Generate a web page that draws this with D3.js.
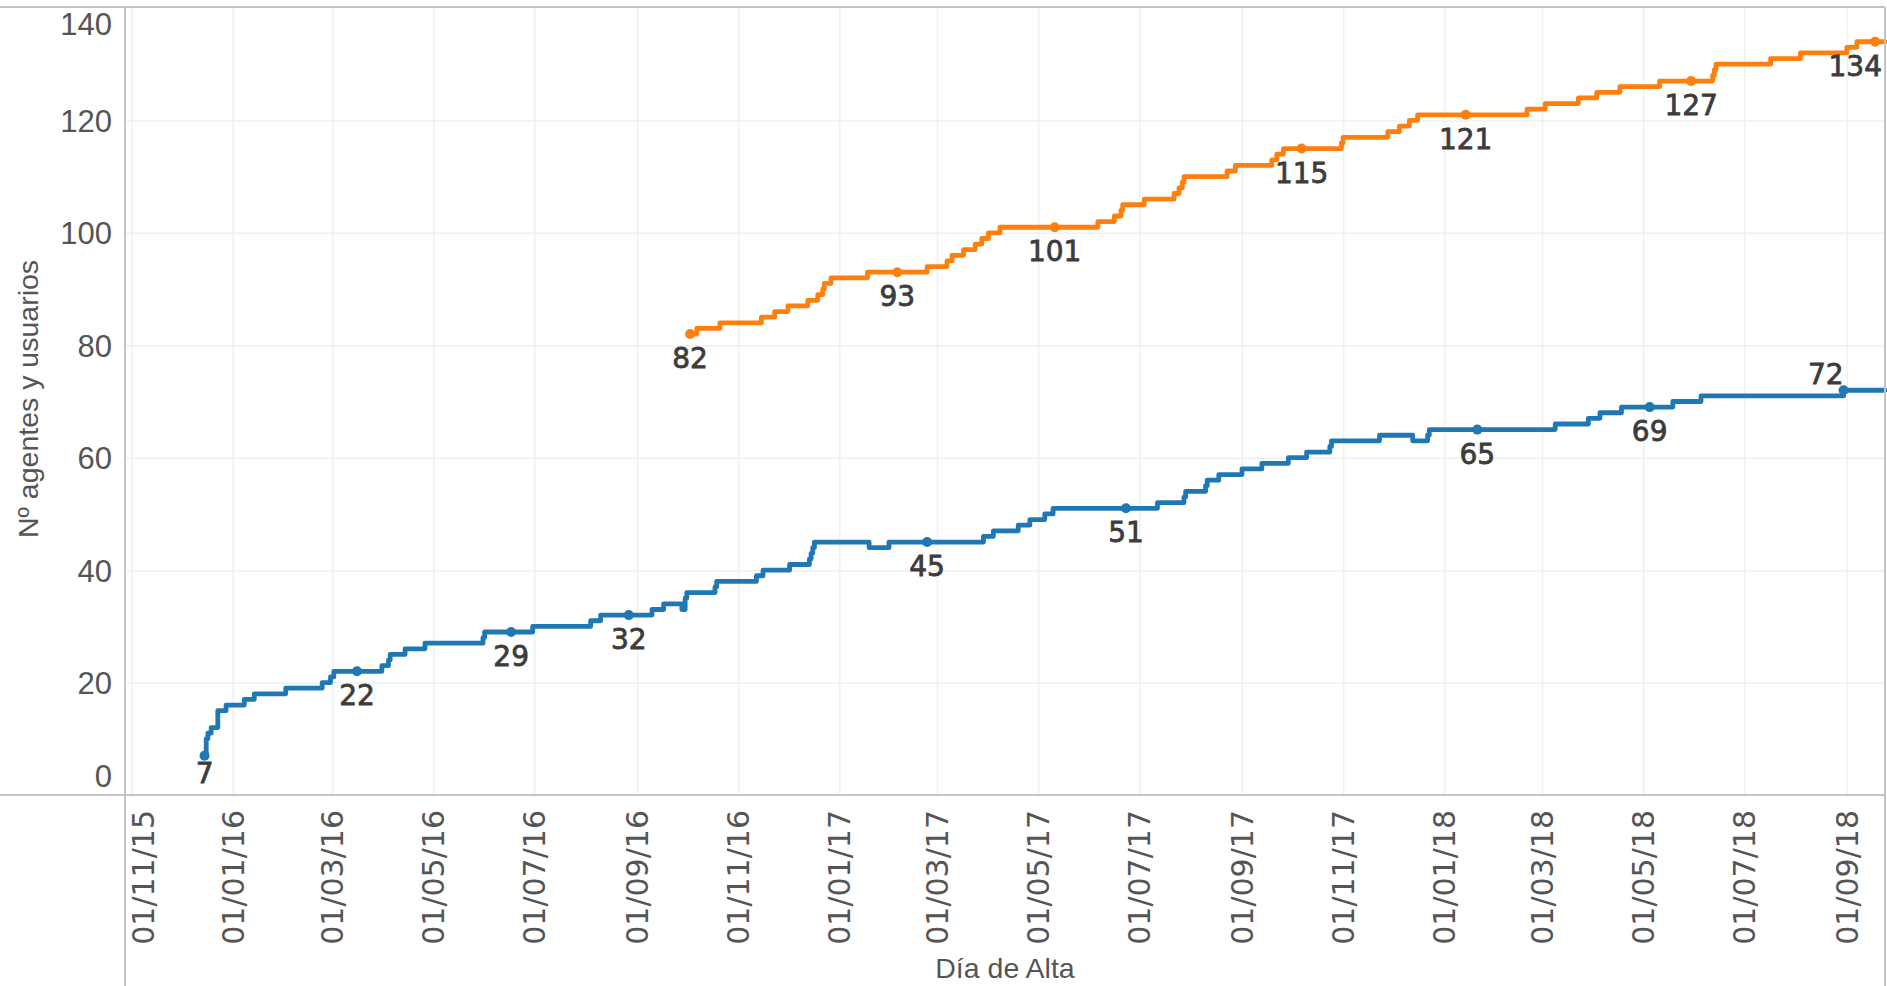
<!DOCTYPE html>
<html lang="es">
<head>
  <meta charset="UTF-8">
  <title>Nº agentes y usuarios</title>
<style>
    html, body {
      margin: 0;
      padding: 0;
      background: #fff;
    }

    svg {
      display: block;
    }

    .grid line {
      stroke: #f0f0f0;
      stroke-width: 1.5;
    }

    .frame {
      stroke: #c4c4c4;
      stroke-width: 2;
    }

    .y-tick text {
      font-family: "Liberation Sans", Arial, sans-serif;
      font-size: 31px;
      fill: #555;
    }

    .x-tick text {
      font-family: "DejaVu Sans", sans-serif;
      font-size: 30px;
      fill: #555;
    }

    .axis-title {
      font-family: "Liberation Sans", Arial, sans-serif;
      font-size: 28.5px;
      fill: #555;
    }

    .mark-label {
      font-family: "DejaVu Sans", sans-serif;
      font-size: 28px;
      fill: #3c3c3c;
      stroke: #3c3c3c;
      stroke-width: 0.8px;
    }
  </style>
</head>
<body>
  <svg id="chart"></svg>
<script src="https://d3js.org/d3.v7.min.js"></script>
<script>
    // Data: step change points [date, value]
    const blueSteps = [
      ['2015-12-15', 7], ['2015-12-16', 10], ['2015-12-17', 11], ['2015-12-19', 12],
      ['2015-12-23', 15], ['2015-12-28', 16], ['2016-01-08', 17], ['2016-01-14', 18],
      ['2016-02-02', 19], ['2016-02-24', 20], ['2016-02-29', 21], ['2016-03-02', 22],
      ['2016-03-31', 23], ['2016-04-04', 24], ['2016-04-05', 25], ['2016-04-14', 26],
      ['2016-04-26', 27], ['2016-05-31', 28], ['2016-06-01', 29], ['2016-06-30', 30],
      ['2016-08-04', 31], ['2016-08-10', 32], ['2016-09-10', 33], ['2016-09-17', 34],
      ['2016-09-28', 33], ['2016-09-30', 35], ['2016-10-01', 36], ['2016-10-18', 37],
      ['2016-10-19', 38], ['2016-11-12', 39], ['2016-11-16', 40], ['2016-12-02', 41],
      ['2016-12-14', 42], ['2016-12-15', 43], ['2016-12-16', 44], ['2016-12-17', 45],
      ['2017-01-19', 44], ['2017-01-31', 45], ['2017-03-29', 46], ['2017-04-04', 47],
      ['2017-04-19', 48], ['2017-04-26', 49], ['2017-05-05', 50], ['2017-05-10', 51],
      ['2017-07-12', 52], ['2017-07-28', 53], ['2017-07-29', 54], ['2017-08-10', 55],
      ['2017-08-11', 56], ['2017-08-18', 57], ['2017-09-01', 58], ['2017-09-13', 59],
      ['2017-09-29', 60], ['2017-10-10', 61], ['2017-10-24', 62], ['2017-10-25', 63],
      ['2017-11-23', 64], ['2017-12-13', 63], ['2017-12-22', 64], ['2017-12-23', 65],
      ['2018-03-09', 66], ['2018-03-29', 67], ['2018-04-05', 68], ['2018-04-18', 69],
      ['2018-05-19', 70], ['2018-06-05', 71], ['2018-08-30', 72], ['2018-09-24', 72]
    ];

    const orangeSteps = [
      ['2016-10-03', 82], ['2016-10-07', 83], ['2016-10-21', 84], ['2016-11-15', 85],
      ['2016-11-23', 86], ['2016-12-01', 87], ['2016-12-13', 88], ['2016-12-19', 89],
      ['2016-12-22', 90], ['2016-12-23', 91], ['2016-12-27', 92], ['2017-01-18', 93],
      ['2017-02-23', 94], ['2017-03-07', 95], ['2017-03-10', 96], ['2017-03-17', 97],
      ['2017-03-24', 98], ['2017-03-28', 99], ['2017-04-01', 100], ['2017-04-08', 101],
      ['2017-06-06', 102], ['2017-06-16', 103], ['2017-06-20', 104], ['2017-06-21', 105],
      ['2017-07-04', 106], ['2017-07-22', 107], ['2017-07-25', 108], ['2017-07-27', 109],
      ['2017-07-28', 110], ['2017-08-23', 111], ['2017-08-28', 112], ['2017-09-19', 113],
      ['2017-09-22', 114], ['2017-09-26', 115], ['2017-10-31', 116], ['2017-11-01', 117],
      ['2017-11-28', 118], ['2017-12-05', 119], ['2017-12-11', 120], ['2017-12-16', 121],
      ['2018-02-20', 122], ['2018-03-03', 123], ['2018-03-23', 124], ['2018-04-03', 125],
      ['2018-04-17', 126], ['2018-05-11', 127], ['2018-06-12', 128], ['2018-06-13', 129],
      ['2018-06-14', 130], ['2018-07-17', 131], ['2018-08-04', 132], ['2018-09-01', 133],
      ['2018-09-07', 134], ['2018-09-24', 134]
    ];

    // Labelled marks
    const blueLabels = [
      ['2015-12-15', 7], ['2016-03-16', 22], ['2016-06-17', 29], ['2016-08-27', 32],
      ['2017-02-23', 45], ['2017-06-23', 51], ['2018-01-21', 65], ['2018-05-05', 69],
      ['2018-08-30', 72]
    ];

    const orangeLabels = [
      ['2016-10-03', 82], ['2017-02-05', 93], ['2017-05-11', 101], ['2017-10-07', 115],
      ['2018-01-14', 121], ['2018-05-30', 127], ['2018-09-18', 134]
    ];

    const xDomain = ['2015-10-28', '2018-09-24'];
    const xTicks = [
      '2015-11-01', '2016-01-01', '2016-03-01', '2016-05-01', '2016-07-01', '2016-09-01',
      '2016-11-01', '2017-01-01', '2017-03-01', '2017-05-01', '2017-07-01', '2017-09-01',
      '2017-11-01', '2018-01-01', '2018-03-01', '2018-05-01', '2018-07-01', '2018-09-01'
    ];
    const yTicks = [0, 20, 40, 60, 80, 100, 120, 140];

    const xTitle = 'Día de Alta';
    const yTitle = 'Nº agentes y usuarios';

    // Dimensions
    const W = 1887, H = 986;
    const margin = { top: 8, right: 2, bottom: 191, left: 125 };
    const width = W - margin.left - margin.right;
    const height = H - margin.top - margin.bottom;

    const parse = d3.utcParse('%Y-%m-%d');
    const toPoints = arr => arr.map(d => ({ date: parse(d[0]), value: d[1] }));

    const series = [
      { steps: toPoints(blueSteps), labels: toPoints(blueLabels), color: '#1f77b4', lastAbove: true },
      { steps: toPoints(orangeSteps), labels: toPoints(orangeLabels), color: '#ff7f0e', lastAbove: false }
    ];

    // Scales
    const x = d3.scaleUtc()
      .domain(xDomain.map(parse))
      .range([0, width]);

    const y = d3.scaleLinear()
      .domain([0, 140])
      .range([height, 0]);

    const svgRoot = d3.select('#chart')
      .attr('width', W)
      .attr('height', H);

    const svg = svgRoot.append('g')
      .attr('transform', `translate(${margin.left}, ${margin.top})`);

    // Gridlines
    svg.append('g')
      .attr('class', 'grid')
      .call(d3.axisLeft(y).tickValues(yTicks.filter(v => v > 0 && v < 140)).tickSize(-width).tickFormat(''))
      .call(g => g.select('.domain').remove());

    svg.append('g')
      .attr('class', 'grid')
      .attr('transform', `translate(0, ${height})`)
      .call(d3.axisBottom(x).tickValues(xTicks.map(parse)).tickSize(-height).tickFormat(''))
      .call(g => g.select('.domain').remove());

    // Frame lines (pane dividers)
    const frame = svgRoot.append('g');
    frame.append('line').attr('class', 'frame')
      .attr('x1', 0).attr('x2', margin.left + width).attr('y1', margin.top - 1).attr('y2', margin.top - 1);
    frame.append('line').attr('class', 'frame')
      .attr('x1', 0).attr('x2', margin.left + width).attr('y1', margin.top + height).attr('y2', margin.top + height);
    frame.append('line').attr('class', 'frame')
      .attr('x1', margin.left).attr('x2', margin.left).attr('y1', margin.top - 1).attr('y2', H);
    frame.append('line').attr('class', 'frame')
      .attr('x1', margin.left + width).attr('x2', margin.left + width).attr('y1', margin.top - 1).attr('y2', H);

    // Y axis labels (edge labels pulled inside the pane)
    svg.append('g')
      .attr('class', 'y-tick')
      .call(d3.axisLeft(y).tickValues(yTicks).tickSize(0).tickPadding(13))
      .call(g => g.select('.domain').remove())
      .selectAll('.tick text')
      .attr('dy', '0.35em')
      .attr('y', d => {
        const yy = y(d);
        const clamped = Math.max(16, Math.min(height - 19, yy));
        return clamped - yy;
      });

    // X axis labels, rotated
    const fmt = d3.utcFormat('%d/%m/%y');
    svg.append('g')
      .attr('class', 'x-tick')
      .attr('transform', `translate(0, ${height})`)
      .call(d3.axisBottom(x).tickValues(xTicks.map(parse)).tickSize(0).tickFormat(fmt))
      .call(g => g.select('.domain').remove())
      .selectAll('.tick text')
      .attr('transform', 'rotate(-90)')
      .attr('text-anchor', 'end')
      .attr('x', -15)
      .attr('dy', '0.35em')
      .attr('y', d => {
        const xx = x(d);
        return xx < 16 ? 18 - xx : 0;
      });

    // Lines
    const line = d3.line()
      .x(d => x(d.date))
      .y(d => y(d.value))
      .curve(d3.curveStepAfter);

    series.forEach(s => {
      svg.append('path')
        .datum(s.steps)
        .attr('fill', 'none')
        .attr('stroke', s.color)
        .attr('stroke-width', 4.8)
        .attr('stroke-linejoin', 'round')
        .attr('stroke-linecap', 'round')
        .attr('d', line);

      svg.selectAll(null)
        .data(s.labels)
        .enter().append('circle')
        .attr('cx', d => x(d.date))
        .attr('cy', d => y(d.value))
        .attr('r', 5)
        .attr('fill', s.color);
    });

    // Mark labels
    series.forEach(s => {
      const last = s.labels.length - 1;
      svg.selectAll(null)
        .data(s.labels)
        .enter().append('text')
        .attr('class', 'mark-label')
        .text(d => d.value)
        .each(function(d, i) {
          const t = d3.select(this);
          const cx = x(d.date), cy = y(d.value);
          if (s.lastAbove && i === last) {
            t.attr('text-anchor', 'end').attr('x', cx).attr('y', cy - 6);
            return;
          }
          const w = this.getComputedTextLength();
          const lx = Math.min(cx, width - 3 - w / 2);
          const ly = Math.min(cy + 34, height - 12);
          t.attr('text-anchor', 'middle').attr('x', lx).attr('y', ly);
        });
    });

    // Axis titles
    svgRoot.append('text')
      .attr('class', 'axis-title')
      .attr('text-anchor', 'middle')
      .attr('x', margin.left + width / 2)
      .attr('y', 978)
      .text(xTitle);

    svgRoot.append('text')
      .attr('class', 'axis-title')
      .attr('text-anchor', 'middle')
      .attr('transform', `translate(38, 399) rotate(-90)`)
      .text(yTitle);
  </script>
</body>
</html>
